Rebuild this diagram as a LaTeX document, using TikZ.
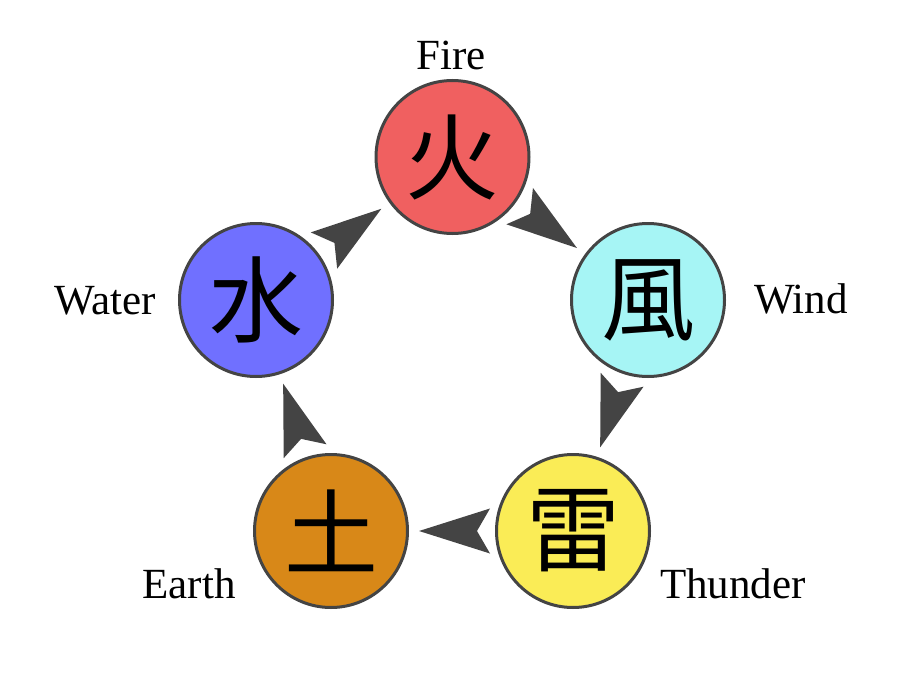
\documentclass[tikz,border=0pt]{standalone}
\usepackage{fontspec}
\setmainfont{Liberation Serif}
\newfontfamily\cjk{Noto Sans CJK JP}
\usetikzlibrary{calc}
\definecolor{firec}{RGB}{240,96,96}
\definecolor{windc}{RGB}{166,245,245}
\definecolor{thunc}{RGB}{250,236,86}
\definecolor{earthc}{RGB}{216,136,24}
\definecolor{waterc}{RGB}{112,112,255}
\definecolor{edgec}{RGB}{68,68,68}
\tikzset{
  elem/.style={circle, draw=edgec, line width=3pt, minimum size=153pt, inner sep=0pt,
    font=\cjk\fontsize{94}{94}\selectfont},
  lbl/.style={font=\fontsize{43}{43}\selectfont, inner sep=0pt, anchor=base},
  headfill/.style={fill=edgec, draw=none}
}
\newcommand\arrowhd[3]{%
  \coordinate (#3t) at ($(#2)!88pt!(#1)$);
  \coordinate (#3b) at ($(#2)!159pt!(#1)$);
  \coordinate (#3n) at ($(#2)!146pt!(#1)$);
  \path[headfill] (#3t) -- ($(#3b)!22.5pt!90:(#3t)$) -- (#3n) -- ($(#3b)!22.5pt!-90:(#3t)$) -- cycle;
}
\begin{document}
\begin{tikzpicture}[x=1pt,y=-1pt]
\path[use as bounding box] (0,0) rectangle (900,685);
\node[elem, fill=firec]   (fire)  at (452.5,157) {火};
\node[elem, fill=windc]   (wind)  at (648,300) {風};
\node[elem, fill=thunc]   (thun)  at (573,531) {雷};
\node[elem, fill=earthc]  (earth) at (331,531) {土};
\node[elem, fill=waterc]  (water) at (256,300) {水};
\node[lbl] (lfire)  at (451,70)  {Fire};
\node[lbl] (lwind)  at (801,313) {Wind};
\node[lbl] (lwater) at (105,314) {Water};
\node[lbl] (learth) at (189,598) {Earth};
\node[lbl] (lthun)  at (733,598) {Thunder};
\arrowhd{fire}{wind}{a1}
\arrowhd{wind}{thun}{a2}
\arrowhd{thun}{earth}{a3}
\arrowhd{earth}{water}{a4}
\arrowhd{water}{fire}{a5}
\end{tikzpicture}
\end{document}
